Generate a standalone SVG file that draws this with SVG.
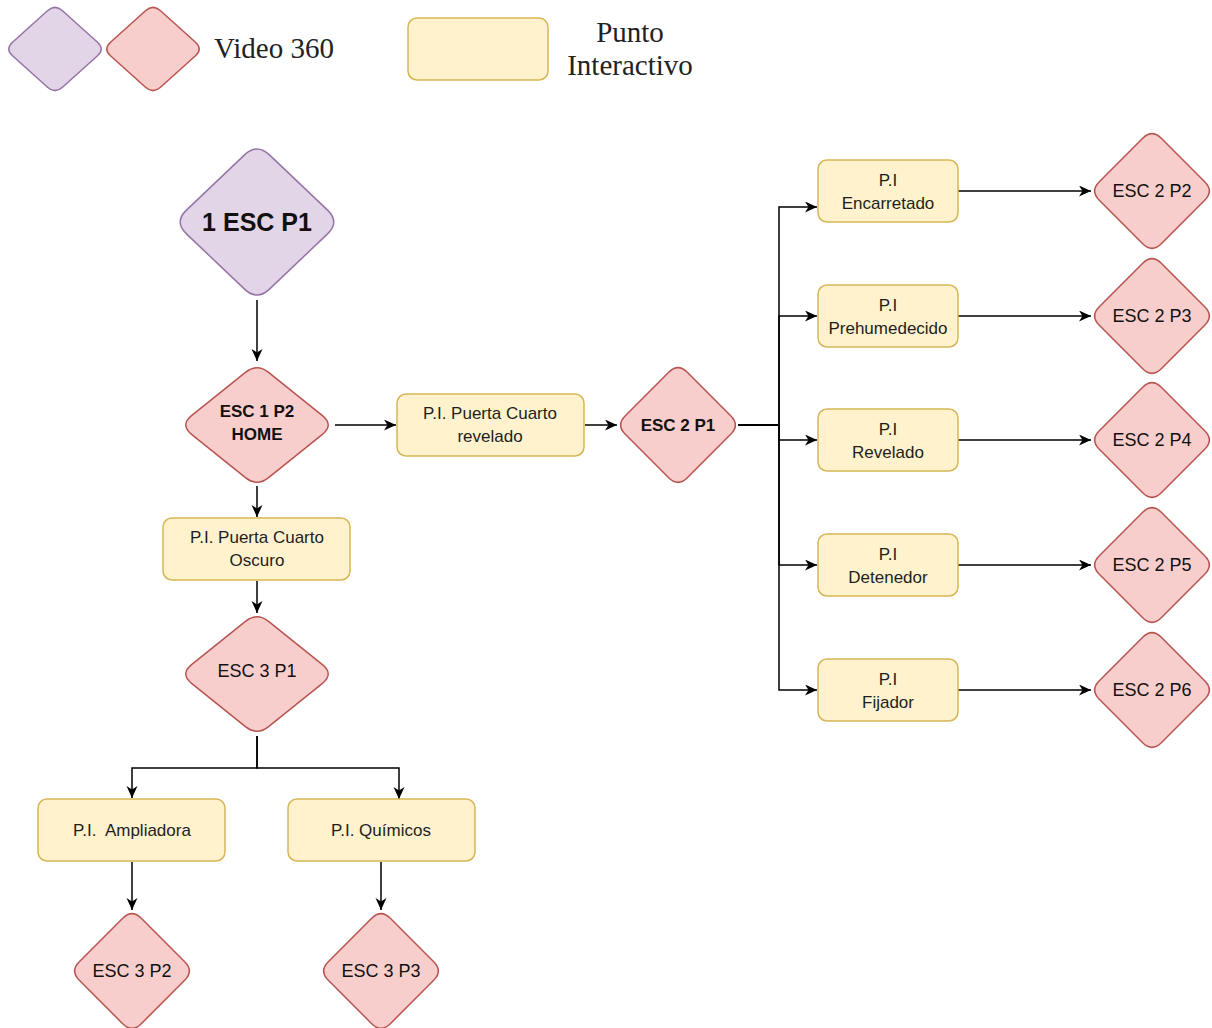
<svg xmlns="http://www.w3.org/2000/svg" width="1212" height="1028" viewBox="0 0 1212 1028">
<style>
.pu{fill:#e1d5e7;stroke:#9673a6;stroke-width:1.5}
.rd{fill:#f8cecc;stroke:#b85450;stroke-width:1.5}
.ye{fill:#fff2cc;stroke:#d6b656;stroke-width:1.5}
.t{font-family:"Liberation Sans",Arial,sans-serif;font-size:17px;fill:#1e1e1e;text-anchor:middle}
.d{font-family:"Liberation Sans",Arial,sans-serif;font-size:18px;fill:#111;text-anchor:middle}
.lg{font-family:"Liberation Serif","Times New Roman",serif;font-size:29px;fill:#222}
.c{fill:none;stroke:#000;stroke-width:1.5}
</style>
<defs>
<marker id="ar" markerUnits="userSpaceOnUse" markerWidth="13" markerHeight="12" refX="12" refY="5.5" orient="auto">
<path d="M0,0 L12,5.5 L0,11 L3.5,5.5 Z" fill="#000"/>
</marker>
<path id="dA" d="M9.3,-52.7 L52.7,-9.3 Q62,0 52.7,9.3 L9.3,52.7 Q0,62 -9.3,52.7 L-52.7,9.3 Q-62,0 -52.7,-9.3 L-9.3,-52.7 Q0,-62 9.3,-52.7 Z"/>
<path id="dB" d="M11.55,-52.7 L65.45,-9.3 Q77,0 65.45,9.3 L11.55,52.7 Q0,62 -11.55,52.7 L-65.45,9.3 Q-77,0 -65.45,-9.3 L-11.55,-52.7 Q0,-62 11.55,-52.7 Z"/>
<path id="dC" d="M12.45,-67.15 L70.55,-11.85 Q83,0 70.55,11.85 L12.45,67.15 Q0,79 -12.45,67.15 L-70.55,11.85 Q-83,0 -70.55,-11.85 L-12.45,-67.15 Q0,-79 12.45,-67.15 Z"/>
<path id="dL" d="M7.5,-38.25 L42.5,-6.75 Q50,0 42.5,6.75 L7.5,38.25 Q0,45 -7.5,38.25 L-42.5,6.75 Q-50,0 -42.5,-6.75 L-7.5,-38.25 Q0,-45 7.5,-38.25 Z"/>
</defs>
<rect width="1212" height="1028" fill="#fff"/>

<g id="legend">
<use href="#dL" class="pu" x="55" y="49"/>
<use href="#dL" class="rd" x="153" y="49"/>
<text class="lg" x="214" y="58">Video 360</text>
<rect class="ye" x="408" y="18" width="140" height="62" rx="9"/>
<text class="lg" x="630" y="42" text-anchor="middle">Punto</text>
<text class="lg" x="630" y="75" text-anchor="middle">Interactivo</text>
</g>

<g id="connectors">
<path class="c" d="M257,300 V361" marker-end="url(#ar)"/>
<path class="c" d="M335,425 H396" marker-end="url(#ar)"/>
<path class="c" d="M585,425 H617" marker-end="url(#ar)"/>
<path class="c" d="M738,425 H779 V207 H817" marker-end="url(#ar)"/>
<path class="c" d="M738,425 H779 V316 H817" marker-end="url(#ar)"/>
<path class="c" d="M738,425 H779 V440 H817" marker-end="url(#ar)"/>
<path class="c" d="M738,425 H779 V565 H817" marker-end="url(#ar)"/>
<path class="c" d="M738,425 H779 V690 H817" marker-end="url(#ar)"/>
<path class="c" d="M958,191 H1091" marker-end="url(#ar)"/>
<path class="c" d="M958,316 H1091" marker-end="url(#ar)"/>
<path class="c" d="M958,440 H1091" marker-end="url(#ar)"/>
<path class="c" d="M958,565 H1091" marker-end="url(#ar)"/>
<path class="c" d="M958,690 H1091" marker-end="url(#ar)"/>
<path class="c" d="M257,486 V517" marker-end="url(#ar)"/>
<path class="c" d="M257,581 V613" marker-end="url(#ar)"/>
<path class="c" d="M257,736 V768 H132 V798" marker-end="url(#ar)"/>
<path class="c" d="M257,736 V768 H399 V799" marker-end="url(#ar)"/>
<path class="c" d="M132,862 V910" marker-end="url(#ar)"/>
<path class="c" d="M381,862 V910" marker-end="url(#ar)"/>
</g>

<g id="n-esc1p1">
<use href="#dC" class="pu" x="257" y="222"/>
<text class="d" x="257" y="231" style="font-size:25px;font-weight:bold">1 ESC P1</text>
</g>
<g id="n-esc1p2">
<use href="#dB" class="rd" x="257" y="425"/>
<text class="d" x="257" y="417" style="font-weight:bold;font-size:17px">ESC 1 P2</text>
<text class="d" x="257" y="440" style="font-weight:bold;font-size:17px">HOME</text>
</g>
<g id="n-pi-revelado">
<rect class="ye" x="397" y="394" width="187" height="62" rx="9"/>
<text class="t" x="490" y="419">P.I. Puerta Cuarto</text>
<text class="t" x="490" y="442">revelado</text>
</g>
<g id="n-esc2p1">
<use href="#dA" class="rd" x="678" y="425"/>
<text class="d" x="678" y="431" style="font-weight:bold;font-size:17px">ESC 2 P1</text>
</g>

<g id="n-pi-encarretado">
<rect class="ye" x="818" y="160" width="140" height="62" rx="9"/>
<text class="t" x="888" y="186">P.I</text>
<text class="t" x="888" y="209">Encarretado</text>
</g>
<g id="n-pi-prehumedecido">
<rect class="ye" x="818" y="285" width="140" height="62" rx="9"/>
<text class="t" x="888" y="311">P.I</text>
<text class="t" x="888" y="334">Prehumedecido</text>
</g>
<g id="n-pi-revelado2">
<rect class="ye" x="818" y="409" width="140" height="62" rx="9"/>
<text class="t" x="888" y="435">P.I</text>
<text class="t" x="888" y="458">Revelado</text>
</g>
<g id="n-pi-detenedor">
<rect class="ye" x="818" y="534" width="140" height="62" rx="9"/>
<text class="t" x="888" y="560">P.I</text>
<text class="t" x="888" y="583">Detenedor</text>
</g>
<g id="n-pi-fijador">
<rect class="ye" x="818" y="659" width="140" height="62" rx="9"/>
<text class="t" x="888" y="685">P.I</text>
<text class="t" x="888" y="708">Fijador</text>
</g>

<g id="n-esc2p2"><use href="#dA" class="rd" x="1152" y="191"/><text class="d" x="1152" y="197">ESC 2 P2</text></g>
<g id="n-esc2p3"><use href="#dA" class="rd" x="1152" y="316"/><text class="d" x="1152" y="322">ESC 2 P3</text></g>
<g id="n-esc2p4"><use href="#dA" class="rd" x="1152" y="440"/><text class="d" x="1152" y="446">ESC 2 P4</text></g>
<g id="n-esc2p5"><use href="#dA" class="rd" x="1152" y="565"/><text class="d" x="1152" y="571">ESC 2 P5</text></g>
<g id="n-esc2p6"><use href="#dA" class="rd" x="1152" y="690"/><text class="d" x="1152" y="696">ESC 2 P6</text></g>

<g id="n-pi-oscuro">
<rect class="ye" x="163" y="518" width="187" height="62" rx="9"/>
<text class="t" x="257" y="543">P.I. Puerta Cuarto</text>
<text class="t" x="257" y="566">Oscuro</text>
</g>
<g id="n-esc3p1">
<use href="#dB" class="rd" x="257" y="674"/>
<text class="d" x="257" y="677">ESC 3 P1</text>
</g>
<g id="n-pi-ampliadora">
<rect class="ye" x="38" y="799" width="187" height="62" rx="9"/>
<text class="t" x="132" y="836" xml:space="preserve">P.I.  Ampliadora</text>
</g>
<g id="n-pi-quimicos">
<rect class="ye" x="288" y="799" width="187" height="62" rx="9"/>
<text class="t" x="381" y="836">P.I. Químicos</text>
</g>
<g id="n-esc3p2"><use href="#dA" class="rd" x="132" y="971"/><text class="d" x="132" y="977">ESC 3 P2</text></g>
<g id="n-esc3p3"><use href="#dA" class="rd" x="381" y="971"/><text class="d" x="381" y="977">ESC 3 P3</text></g>
</svg>
